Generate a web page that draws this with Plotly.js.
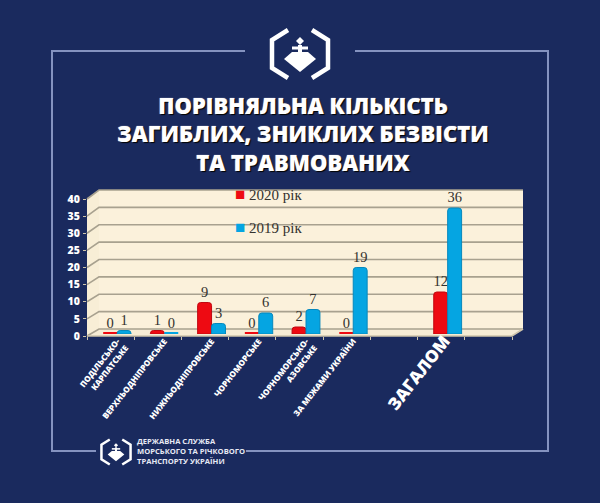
<!DOCTYPE html>
<html><head><meta charset="utf-8">
<script src="https://cdn.plot.ly/plotly-3.0.1.min.js"></script>
<style>html,body{margin:0;padding:0;background:#1a2a5e}</style></head>
<body><div id="chart" style="width:600px;height:503px"></div>
<script>
const categories = ['ПОДІЛЬСЬКО-<br>КАРПАТСЬКЕ','ВЕРХНЬОДНІПРОВСЬКЕ','НИЖНЬОДНІПРОВСЬКЕ','ЧОРНОМОРСЬКЕ','ЧОРНОМОРСЬКО-<br>АЗОВСЬКЕ','ЗА МЕЖАМИ УКРАЇНИ',' ','<span style="font-size:17px">ЗАГАЛОМ</span>','  '];
const values2020 = [0,1,9,0,2,0,null,12,null];
const values2019 = [1,0,3,6,7,19,null,36,null];
const name2020 = '2020 рік';
const name2019 = '2019 рік';
const yTicks = [0,5,10,15,20,25,30,35,40];
const titleText = 'ПОРІВНЯЛЬНА КІЛЬКІСТЬ<br>ЗАГИБЛИХ, ЗНИКЛИХ БЕЗВІСТИ<br>ТА ТРАВМОВАНИХ';
const orgText = 'ДЕРЖАВНА СЛУЖБА<br>МОРСЬКОГО ТА РІЧКОВОГО<br>ТРАНСПОРТУ УКРАЇНИ';

const W=600,H=503;
const px=x=>x/W, py=y=>1-y/H;
const P=(pts,close)=>'M'+pts.map(p=>px(p[0]).toFixed(5)+','+py(p[1]).toFixed(5)).join('L')+(close?'Z':'');
const paper={xref:'paper',yref:'paper'};
const shapes=[];
const frame='#8593c0';
function line(pts,color,width){shapes.push({...paper,type:'path',path:P(pts),line:{color,width},layer:'below'});}
function fill(pts,color){shapes.push({...paper,type:'path',path:P(pts,true),fillcolor:color,line:{width:0},layer:'below'});}
line([[245,51],[52,51],[52,451],[96,451]],frame,2);
line([[355,51],[548,51],[548,451],[246,451]],frame,2);
function logo(cx,cy,s,lw){
  const q=(x,y)=>[cx+x*s,cy+y*s];
  line([q(-12,-24),q(-28,-14),q(-28,14),q(-12,24)],'#fff',lw);
  line([q(12,-24),q(28,-14),q(28,14),q(12,24)],'#fff',lw);
  fill([q(-16,5),q(-8,-2),q(8,-2),q(16,5),q(0,18)],'#fff');
  fill([q(0,-17),q(4,-13),q(0,-9),q(-4,-13)],'#fff');
  fill([q(-2,-9),q(2,-9),q(2,0),q(-2,0)],'#fff');
  fill([q(-8,-7.5),q(8,-7.5),q(8,-4.5),q(-8,-4.5)],'#fff');
}
logo(300,54,1,4.5);
logo(116,452,0.52,2.5);
const wall='#fbf1db';
fill([[99,190],[523,190],[523,329],[99,329]],wall);
fill([[87,199],[99,190],[99,329],[87,336]],'#f8eed6');
fill([[87,336],[99,329],[523,329],[512,336]],'#f6ecd5');
yTicks.forEach(t=>{
  const back=329-t*139/40, front=336-t*137/40;
  line([[87,front],[99,back],[523,back]],'#a8a18f',1.6);
});
line([[87,336],[512,336],[523,329]],'#cfc5ab',1.6);

const bar=(name,vals,color,edge)=>({type:'bar',name,x:categories,y:vals,
  marker:{color,cornerradius:3,line:{color:vals.map(v=>v===0?color:edge),width:vals.map(v=>v===0?4:1)}},
  text:vals.map(v=>v===null?'':String(v)),textposition:'outside',cliponaxis:false,constraintext:'none',
  textfont:{family:'Liberation Serif',size:14.5,color:'#33322e'},hoverinfo:'skip',showlegend:false});
const data=[
  bar(name2020,values2020,'#ee0a12','#c00810'),
  bar(name2019,values2019,'#05a5e2','#0688bd'),
  {type:'scatter',mode:'none',x:[0,9],y:[yTicks[0],yTicks[yTicks.length-1]],xaxis:'x2',yaxis:'y2',hoverinfo:'skip',showlegend:false}
];
const legendAnn=(name,color,y)=>({...paper,x:px(232.5),y:py(y),xanchor:'left',yanchor:'middle',showarrow:false,
  text:'<span style="color:'+color+';font-size:17px">■</span><span> '+name+'</span>',font:{family:'Liberation Serif',size:15,color:'#33322e'}});
const layout={
  width:W,height:H,margin:{l:0,r:0,t:0,b:0},autosize:false,
  paper_bgcolor:'#1a2a5e',plot_bgcolor:'rgba(0,0,0,0)',
  barmode:'group',bargap:0.41,bargroupgap:0,showlegend:false,
  title:{text:titleText,x:0.505,xanchor:'center',y:py(113.5),yanchor:'middle',
    font:{family:'Open Sans',size:22,weight:800,color:'#fff',shadow:'1px 1px 1px #000, 0 0 1px #fff'}},
  xaxis:{domain:[px(93.5),px(518.5)],type:'category',categoryorder:'array',categoryarray:categories,range:[-0.5,8.5],
    tickangle:-52,ticks:'',showline:false,showgrid:false,zeroline:false,ticklabelstandoff:0,
    tickfont:{family:'Open Sans',size:8.2,weight:800,color:'#fff'}},
  yaxis:{domain:[py(334),py(194)],range:[0,40],visible:false,fixedrange:true},
  xaxis2:{domain:[px(87),px(512)],range:[0,9],anchor:'y2',dtick:1,tick0:0,ticks:'outside',ticklen:3,tickcolor:'#cfc5ab',
    showticklabels:false,showline:false,showgrid:false,zeroline:false},
  yaxis2:{domain:[py(336),py(199)],range:[0,40],anchor:'x2',tickvals:yTicks,ticks:'outside',ticklen:3,tickcolor:'#cfc5ab',
    showline:false,showgrid:false,zeroline:false,ticklabelstandoff:1,
    tickfont:{family:'Open Sans',size:10.5,weight:800,color:'#fff'}},
  shapes,
  annotations:[
    legendAnn(name2020,'#ee0a12',195),
    legendAnn(name2019,'#05a5e2',227),
    {...paper,x:px(135),y:py(450.5),xanchor:'left',yanchor:'middle',align:'left',showarrow:false,text:orgText,
     font:{family:'Open Sans',size:7.6,weight:700,color:'#e6e9f4'}}
  ]
};
Plotly.newPlot('chart',data,layout,{displayModeBar:false,staticPlot:true});
</script></body></html>
